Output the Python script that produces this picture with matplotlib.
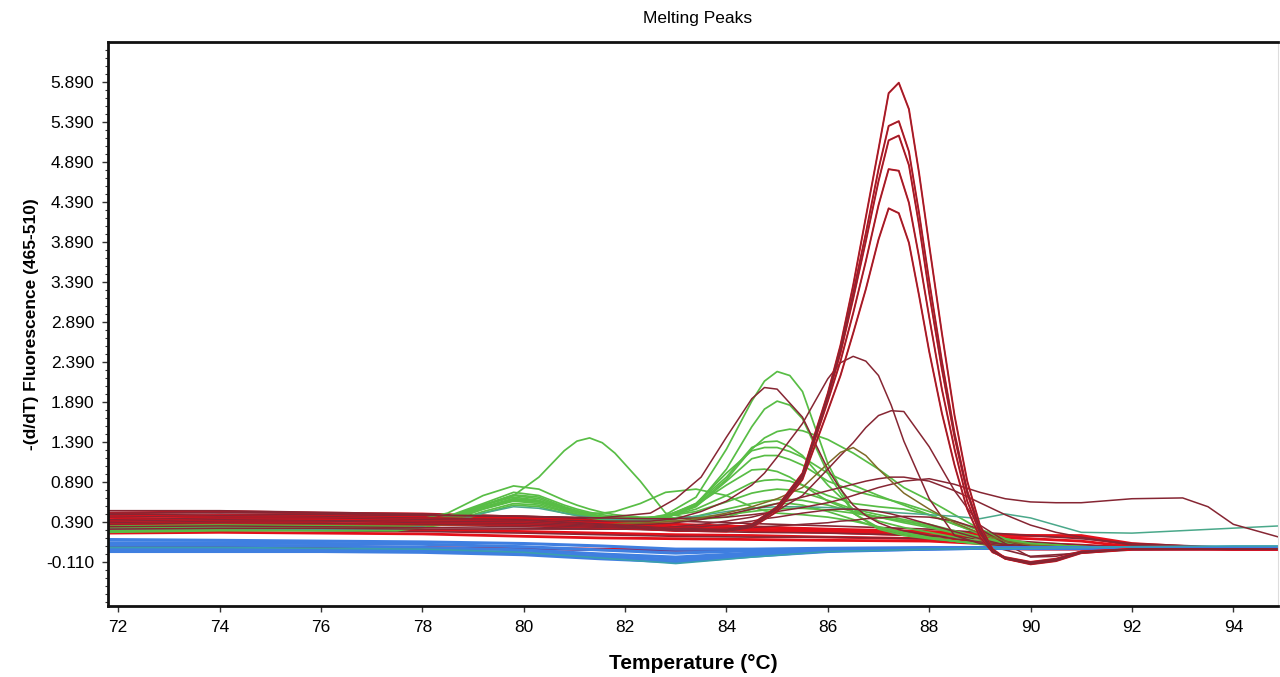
import numpy as np
import matplotlib
matplotlib.use("Agg")
import matplotlib.pyplot as plt
from matplotlib.ticker import FixedLocator

# ---- data ----
y_ticks = [-0.110, 0.390, 0.890, 1.390, 1.890, 2.390, 2.890, 3.390, 3.890, 4.390, 4.890, 5.390, 5.890]
x_ticks = [72, 74, 76, 78, 80, 82, 84, 86, 88, 90, 92, 94]

# flat / baseline curves
flat_t = [71.8, 74, 76, 78, 80, 81.5, 83, 84.5, 86, 88, 89, 90, 91, 92, 94, 94.9]
red_flat_1 = [0.50, 0.52, 0.50, 0.49, 0.45, 0.41, 0.36, 0.33, 0.30, 0.27, 0.24, 0.22, 0.22, 0.12, 0.05, 0.05]
red_flat_2 = [0.46, 0.47, 0.48, 0.46, 0.43, 0.39, 0.33, 0.30, 0.28, 0.25, 0.22, 0.22, 0.20, 0.10, 0.05, 0.05]
red_flat_3 = [0.42, 0.44, 0.43, 0.42, 0.41, 0.37, 0.31, 0.28, 0.26, 0.22, 0.20, 0.18, 0.15, 0.08, 0.05, 0.05]
red_flat_4 = [0.25, 0.26, 0.25, 0.24, 0.21, 0.19, 0.18, 0.17, 0.16, 0.15, 0.12, 0.10, 0.08, 0.06, 0.05, 0.05]
red_flat_5 = [0.10, 0.09, 0.08, 0.07, 0.06, 0.05, 0.04, 0.04, 0.05, 0.06, 0.06, 0.05, 0.05, 0.05, 0.05, 0.05]
red_flat_6 = [0.31, 0.31, 0.30, 0.29, 0.27, 0.25, 0.23, 0.22, 0.20, 0.18, 0.15, 0.12, 0.10, 0.07, 0.05, 0.05]
maroon_flat_1 = [0.53, 0.53, 0.51, 0.49, 0.46, 0.43, 0.40, 0.37, 0.34, 0.30, 0.26, 0.22, 0.18, 0.12, 0.07, 0.06]
maroon_flat_2 = [0.36, 0.37, 0.36, 0.35, 0.33, 0.31, 0.28, 0.26, 0.25, 0.22, 0.18, 0.14, 0.10, 0.07, 0.06, 0.06]
maroon_flat_3 = [0.28, 0.30, 0.28, 0.27, 0.25, 0.23, 0.21, 0.20, 0.20, 0.18, 0.12, -0.04, 0.00, 0.04, 0.05, 0.05]
purple_flat = [0.08, 0.08, 0.07, 0.06, 0.05, 0.04, 0.03, 0.04, 0.05, 0.05, 0.06, 0.05, 0.05, 0.05, 0.05, 0.05]
blue_1 = [0.17, 0.16, 0.15, 0.14, 0.12, 0.09, 0.05, 0.05, 0.06, 0.07, 0.07, 0.07, 0.07, 0.07, 0.07, 0.07]
blue_2 = [0.13, 0.13, 0.12, 0.11, 0.08, 0.04, 0.00, 0.03, 0.05, 0.06, 0.07, 0.07, 0.07, 0.07, 0.07, 0.07]
blue_3 = [0.10, 0.10, 0.09, 0.07, 0.04, -0.01, -0.05, 0.00, 0.04, 0.06, 0.06, 0.07, 0.07, 0.07, 0.07, 0.07]
blue_4 = [0.05, 0.05, 0.04, 0.03, 0.01, -0.04, -0.08, -0.02, 0.03, 0.05, 0.06, 0.06, 0.07, 0.07, 0.07, 0.07]
blue_5 = [0.02, 0.02, 0.02, 0.01, -0.02, -0.07, -0.11, -0.04, 0.02, 0.05, 0.06, 0.06, 0.06, 0.07, 0.07, 0.07]
teal_1 = [0.07, 0.07, 0.06, 0.05, 0.01, -0.06, -0.13, -0.05, 0.02, 0.05, 0.06, 0.06, 0.07, 0.08, 0.09, 0.09]

# green group
green_t = [71.8, 74, 76, 77.5, 78.5, 79.2, 79.8, 80.3, 80.8, 81.05, 81.3, 81.55, 81.8, 82.3, 82.8, 83.4, 84,
           84.5, 84.75, 85, 85.25, 85.5, 86, 86.5, 87, 87.5, 88, 88.5, 89, 89.5, 90, 91, 92, 94.9]
green_1 = [0.33, 0.35, 0.34, 0.34, 0.45, 0.60, 0.70, 0.66, 0.56, 0.52, 0.48, 0.45, 0.43, 0.42, 0.48, 0.70, 1.30,
           1.90, 2.15, 2.27, 2.22, 2.02, 1.12, 0.50, 0.30, 0.22, 0.18, 0.15, 0.12, 0.10, 0.08, 0.07, 0.07, 0.07]
green_2 = [0.30, 0.32, 0.31, 0.31, 0.42, 0.58, 0.68, 0.65, 0.55, 0.51, 0.47, 0.44, 0.42, 0.40, 0.44, 0.60, 1.05,
           1.58, 1.80, 1.90, 1.85, 1.68, 1.00, 0.50, 0.32, 0.24, 0.19, 0.15, 0.12, 0.10, 0.08, 0.07, 0.07, 0.07]
green_3 = [0.28, 0.30, 0.29, 0.30, 0.40, 0.55, 0.65, 0.62, 0.53, 0.49, 0.46, 0.43, 0.41, 0.40, 0.45, 0.60, 0.92,
           1.30, 1.44, 1.52, 1.55, 1.53, 1.42, 1.25, 1.05, 0.82, 0.66, 0.48, 0.30, 0.18, 0.12, 0.08, 0.07, 0.07]
green_4 = [0.32, 0.33, 0.33, 0.33, 0.44, 0.60, 0.72, 0.68, 0.57, 0.53, 0.49, 0.46, 0.44, 0.42, 0.46, 0.62, 0.95,
           1.32, 1.39, 1.40, 1.33, 1.22, 0.85, 0.55, 0.40, 0.32, 0.26, 0.20, 0.15, 0.11, 0.09, 0.07, 0.07, 0.07]
green_5 = [0.27, 0.29, 0.29, 0.29, 0.38, 0.52, 0.62, 0.60, 0.52, 0.48, 0.45, 0.43, 0.41, 0.40, 0.44, 0.58, 0.90,
           1.18, 1.22, 1.22, 1.17, 1.10, 0.90, 0.78, 0.70, 0.62, 0.52, 0.40, 0.28, 0.18, 0.12, 0.08, 0.07, 0.07]
green_6 = [0.31, 0.32, 0.32, 0.32, 0.43, 0.60, 0.73, 0.70, 0.58, 0.53, 0.49, 0.46, 0.44, 0.43, 0.47, 0.60, 0.85,
           1.04, 1.05, 1.02, 0.95, 0.85, 0.65, 0.52, 0.45, 0.40, 0.34, 0.26, 0.18, 0.12, 0.09, 0.07, 0.07, 0.07]
green_7 = [0.29, 0.30, 0.30, 0.30, 0.40, 0.55, 0.66, 0.64, 0.55, 0.51, 0.47, 0.45, 0.43, 0.42, 0.45, 0.55, 0.72,
           0.88, 0.91, 0.92, 0.90, 0.85, 0.72, 0.62, 0.58, 0.55, 0.48, 0.36, 0.24, 0.15, 0.10, 0.08, 0.07, 0.07]
green_8 = [0.34, 0.36, 0.35, 0.35, 0.46, 0.62, 0.76, 0.72, 0.60, 0.55, 0.51, 0.48, 0.46, 0.44, 0.46, 0.52, 0.64,
           0.75, 0.78, 0.80, 0.79, 0.76, 0.66, 0.55, 0.48, 0.42, 0.36, 0.28, 0.20, 0.13, 0.09, 0.07, 0.07, 0.07]
green_9 = [0.26, 0.28, 0.28, 0.28, 0.36, 0.50, 0.60, 0.58, 0.50, 0.47, 0.44, 0.42, 0.40, 0.39, 0.41, 0.46, 0.55,
           0.62, 0.65, 0.67, 0.67, 0.66, 0.60, 0.52, 0.45, 0.38, 0.32, 0.25, 0.18, 0.12, 0.09, 0.07, 0.07, 0.07]
green_10 = [0.30, 0.31, 0.31, 0.31, 0.42, 0.57, 0.68, 0.65, 0.56, 0.52, 0.50, 0.50, 0.52, 0.62, 0.76, 0.80, 0.72,
            0.58, 0.53, 0.50, 0.49, 0.48, 0.45, 0.40, 0.33, 0.26, 0.20, 0.15, 0.12, 0.09, 0.08, 0.07, 0.07, 0.07]
green_11 = [0.33, 0.34, 0.33, 0.33, 0.44, 0.60, 0.72, 0.95, 1.28, 1.40, 1.44, 1.38, 1.25, 0.90, 0.50, 0.42, 0.45,
            0.55, 0.59, 0.62, 0.62, 0.60, 0.52, 0.42, 0.32, 0.25, 0.20, 0.15, 0.11, 0.09, 0.08, 0.07, 0.07, 0.07]
green_12 = [0.36, 0.37, 0.36, 0.36, 0.50, 0.72, 0.84, 0.80, 0.66, 0.60, 0.55, 0.51, 0.48, 0.45, 0.44, 0.45, 0.48,
            0.52, 0.54, 0.55, 0.56, 0.56, 0.54, 0.50, 0.45, 0.40, 0.34, 0.27, 0.20, 0.14, 0.10, 0.08, 0.07, 0.07]
green_13 = [0.29, 0.31, 0.30, 0.30, 0.41, 0.57, 0.67, 0.64, 0.55, 0.51, 0.47, 0.45, 0.43, 0.41, 0.45, 0.62, 1.00,
            1.28, 1.32, 1.32, 1.27, 1.20, 1.00, 0.85, 0.72, 0.60, 0.48, 0.36, 0.25, 0.16, 0.11, 0.08, 0.07, 0.07]
teal_late = [0.30, 0.31, 0.30, 0.30, 0.38, 0.50, 0.58, 0.56, 0.50, 0.47, 0.45, 0.43, 0.42, 0.41, 0.42, 0.46, 0.52,
             0.56, 0.57, 0.58, 0.58, 0.58, 0.57, 0.55, 0.52, 0.50, 0.48, 0.46, 0.43, 0.49, 0.44, 0.26, 0.25, 0.34]

# maroon group
maroon_t = [71.8, 74, 76, 78, 80, 81.5, 82.5, 83, 83.5, 84, 84.5, 84.75, 85, 85.5, 86, 86.25, 86.5, 86.75,
            87, 87.25, 87.5, 88, 88.5, 89, 89.5, 90, 90.5, 91, 92, 93, 93.5, 94, 94.9]
maroon_1 = [0.45, 0.46, 0.45, 0.44, 0.42, 0.40, 0.40, 0.43, 0.52, 0.65, 0.85, 1.00, 1.20, 1.62, 2.18, 2.38, 2.46, 2.40,
            2.22, 1.85, 1.40, 0.68, 0.22, 0.12, 0.09, 0.08, 0.07, 0.07, 0.07, 0.07, 0.07, 0.07, 0.07]
maroon_2 = [0.30, 0.31, 0.31, 0.30, 0.30, 0.30, 0.31, 0.33, 0.36, 0.40, 0.45, 0.49, 0.53, 0.72, 1.05, 1.22, 1.38, 1.57,
            1.72, 1.78, 1.77, 1.33, 0.78, 0.35, 0.15, 0.08, 0.06, 0.06, 0.06, 0.06, 0.06, 0.06, 0.06]
maroon_3 = [0.48, 0.49, 0.48, 0.47, 0.46, 0.44, 0.50, 0.68, 0.95, 1.45, 1.93, 2.07, 2.05, 1.70, 1.05, 0.80, 0.60, 0.47,
            0.38, 0.32, 0.28, 0.22, 0.18, 0.14, 0.11, 0.09, 0.08, 0.07, 0.07, 0.07, 0.07, 0.07, 0.07]
maroon_4 = [0.40, 0.41, 0.40, 0.39, 0.38, 0.36, 0.36, 0.38, 0.42, 0.48, 0.55, 0.58, 0.62, 0.70, 0.78, 0.82, 0.86, 0.90,
            0.93, 0.95, 0.95, 0.90, 0.78, 0.63, 0.48, 0.35, 0.26, 0.20, 0.10, 0.07, 0.07, 0.07, 0.07]
maroon_5 = [0.50, 0.51, 0.50, 0.48, 0.46, 0.44, 0.43, 0.43, 0.44, 0.45, 0.48, 0.50, 0.52, 0.57, 0.63, 0.67, 0.72, 0.77,
            0.82, 0.86, 0.90, 0.93, 0.86, 0.76, 0.68, 0.64, 0.63, 0.63, 0.68, 0.69, 0.58, 0.36, 0.20]
maroon_6 = [0.33, 0.34, 0.33, 0.32, 0.31, 0.30, 0.30, 0.31, 0.33, 0.36, 0.40, 0.43, 0.45, 0.50, 0.54, 0.55, 0.55, 0.54,
            0.52, 0.49, 0.45, 0.36, 0.27, 0.18, 0.10, 0.06, 0.05, 0.05, 0.05, 0.05, 0.05, 0.05, 0.05]
maroon_7 = [0.38, 0.39, 0.38, 0.37, 0.35, 0.33, 0.31, 0.30, 0.30, 0.31, 0.32, 0.33, 0.34, 0.36, 0.38, 0.40, 0.41, 0.43,
            0.44, 0.45, 0.46, 0.45, 0.40, 0.30, 0.12, -0.05, -0.04, 0.02, 0.05, 0.05, 0.05, 0.05, 0.05]
olive_1 = [0.36, 0.37, 0.36, 0.35, 0.35, 0.36, 0.38, 0.40, 0.44, 0.50, 0.58, 0.63, 0.68, 0.82, 1.12, 1.26, 1.32, 1.22,
           1.05, 0.90, 0.75, 0.55, 0.38, 0.25, 0.15, 0.10, 0.08, 0.07, 0.07, 0.07, 0.07, 0.07, 0.07]

# tall red peaks at ~87.3
tall_t = [71.8, 74, 76, 78, 80, 82, 83, 84, 84.5, 85, 85.5, 86, 86.25, 86.5, 86.75, 87,
          87.2, 87.4, 87.6, 87.8, 88, 88.25, 88.5, 88.75, 89, 89.25, 89.5, 90, 90.5, 91, 92, 94.9]
tall_1 = [0.45, 0.47, 0.46, 0.44, 0.42, 0.35, 0.31, 0.30, 0.36, 0.58, 1.00, 2.00, 2.60, 3.35, 4.20, 5.05,
          5.75, 5.88, 5.55, 4.75, 3.85, 2.75, 1.72, 0.90, 0.35, 0.05, -0.06, -0.13, -0.09, 0.01, 0.05, 0.05]
tall_2 = [0.42, 0.44, 0.44, 0.42, 0.41, 0.34, 0.30, 0.29, 0.35, 0.57, 0.98, 1.97, 2.55, 3.25, 4.00, 4.80,
          5.34, 5.40, 5.02, 4.25, 3.40, 2.40, 1.50, 0.78, 0.30, 0.03, -0.07, -0.14, -0.10, 0.00, 0.05, 0.05]
tall_3 = [0.40, 0.42, 0.41, 0.40, 0.39, 0.33, 0.29, 0.29, 0.34, 0.56, 0.97, 1.95, 2.50, 3.18, 3.90, 4.65,
          5.16, 5.22, 4.85, 4.10, 3.25, 2.30, 1.45, 0.75, 0.28, 0.02, -0.07, -0.13, -0.09, 0.01, 0.05, 0.05]
tall_4 = [0.38, 0.40, 0.40, 0.38, 0.37, 0.32, 0.28, 0.28, 0.33, 0.55, 0.95, 1.90, 2.40, 3.00, 3.65, 4.35,
          4.80, 4.78, 4.38, 3.70, 2.95, 2.05, 1.30, 0.65, 0.25, 0.02, -0.06, -0.12, -0.08, 0.02, 0.05, 0.05]
tall_5 = [0.36, 0.38, 0.37, 0.36, 0.35, 0.31, 0.28, 0.27, 0.32, 0.52, 0.92, 1.78, 2.22, 2.75, 3.30, 3.92,
          4.31, 4.25, 3.88, 3.22, 2.52, 1.75, 1.10, 0.55, 0.20, 0.01, -0.05, -0.11, -0.07, 0.02, 0.05, 0.05]

RED = '#e3101a'
MAROON = '#862633'
GREEN = '#58bd45'
BLUE = '#3f7fe0'
TEAL = '#3a9fae'
PURPLE = '#6a3d8a'
OLIVE = '#7f6a28'

fig = plt.figure(figsize=(12.8, 6.77), dpi=100)
ax = fig.add_axes([0.0844, 0.105, 0.914, 0.833])

for vals in [red_flat_1, red_flat_2, red_flat_3, red_flat_4, red_flat_5, red_flat_6]:
    ax.plot(flat_t, vals, color=RED, lw=2.0)
for vals in [maroon_flat_1, maroon_flat_2, maroon_flat_3]:
    ax.plot(flat_t, vals, color=MAROON, lw=1.2)

for vals in [green_1, green_2, green_3, green_4, green_5, green_6, green_7,
             green_8, green_9, green_10, green_11, green_12, green_13]:
    ax.plot(green_t, vals, color=GREEN, lw=1.25)
ax.plot(green_t, teal_late, color='#4aa88a', lw=1.1)

for vals in [maroon_1, maroon_2, maroon_3, maroon_4, maroon_5, maroon_6, maroon_7]:
    ax.plot(maroon_t, vals, color=MAROON, lw=1.1)
ax.plot(maroon_t, olive_1, color=OLIVE, lw=1.1)

ax.plot(flat_t, purple_flat, color=PURPLE, lw=1.6)
for vals in [blue_1, blue_2, blue_3, blue_4, blue_5]:
    ax.plot(flat_t, vals, color=BLUE, lw=2.2)
ax.plot(flat_t, teal_1, color=TEAL, lw=1.2)

# red under, thin maroon core on top
for vals in [tall_1, tall_2, tall_3, tall_4, tall_5]:
    ax.plot(tall_t, vals, color=RED, lw=1.4)
for vals in [tall_1, tall_2, tall_3, tall_4, tall_5]:
    ax.plot(tall_t, vals, color=MAROON, lw=0.8)

ax.set_xlim(71.8, 94.88)
ax.set_ylim(-0.66, 6.39)

ax.yaxis.set_major_locator(FixedLocator(y_ticks))
ax.yaxis.set_minor_locator(FixedLocator([round(-0.61 + 0.1 * i, 3) for i in range(70)]))
ax.set_yticklabels([f"{v:.3f}" for v in y_ticks])
ax.set_xticks(x_ticks)
ax.set_xticklabels([str(v) for v in x_ticks])

tick_font = ['Liberation Sans Narrow', 'Liberation Sans', 'DejaVu Sans']
for lab in ax.get_xticklabels() + ax.get_yticklabels():
    lab.set_family(tick_font)
    lab.set_fontsize(12.5)
ax.tick_params(axis='both', which='major', direction='out', length=4, width=1, color='#333333', pad=6)
ax.tick_params(axis='y', which='minor', direction='out', length=2, width=0.8, color='#333333')

for side in ['left', 'bottom', 'top']:
    ax.spines[side].set_linewidth(2)
    ax.spines[side].set_color('#111111')
ax.spines['right'].set_linewidth(0.8)
ax.spines['right'].set_color('#dddddd')

ax.set_xlabel('Temperature (°C)', family=['Liberation Sans', 'DejaVu Sans'],
              fontsize=15, fontweight='bold', labelpad=14)
ax.set_ylabel('-(d/dT) Fluorescence (465-510)', family=['Liberation Sans', 'DejaVu Sans'],
              fontsize=12.5, fontweight='bold', labelpad=5)
fig.text(0.545, 0.973, 'Melting Peaks', ha='center', va='center',
         family=['Liberation Sans', 'DejaVu Sans'], fontsize=12.5)

fig.savefig('out.png', dpi=100)
